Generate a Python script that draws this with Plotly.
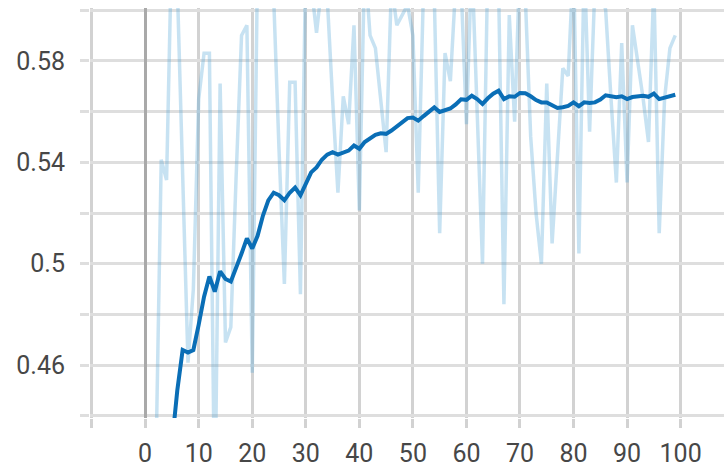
import plotly.graph_objects as go

steps = list(range(100))

raw_values = [
    0.30, 0.38, 0.42, 0.541, 0.533, 0.63, 0.61, 0.535, 0.461, 0.49,
    0.565, 0.583, 0.583, 0.40, 0.571, 0.469, 0.475, 0.535, 0.590, 0.594,
    0.457, 0.62, 0.63, 0.62, 0.605, 0.545, 0.492, 0.5715, 0.5715, 0.488,
    0.62, 0.61, 0.591, 0.61, 0.605, 0.565, 0.528, 0.566, 0.555, 0.594,
    0.521, 0.62, 0.590, 0.585, 0.564, 0.544, 0.61, 0.594, 0.598, 0.602,
    0.59, 0.528, 0.61, 0.61, 0.605, 0.512, 0.583, 0.572, 0.61, 0.61,
    0.555, 0.62, 0.56, 0.50, 0.62, 0.61, 0.61, 0.484, 0.598, 0.556,
    0.62, 0.605, 0.55, 0.52, 0.50, 0.571, 0.508, 0.54, 0.577, 0.574,
    0.62, 0.504, 0.62, 0.552, 0.61, 0.61, 0.60, 0.565, 0.532, 0.587,
    0.532, 0.594, 0.58, 0.565, 0.548, 0.61, 0.512, 0.565, 0.585, 0.59,
]

smoothed_values = [
    0.33, 0.36, 0.385, 0.40, 0.415, 0.429, 0.450, 0.466, 0.465, 0.466,
    0.476, 0.487, 0.495, 0.489, 0.497, 0.494, 0.493, 0.498, 0.504, 0.510,
    0.506, 0.511, 0.519, 0.525, 0.528, 0.527, 0.525, 0.528, 0.530, 0.527,
    0.532, 0.536, 0.538, 0.541, 0.543, 0.544, 0.543, 0.544, 0.5446, 0.5466,
    0.5453, 0.548, 0.5495, 0.5508, 0.5514, 0.5512, 0.5525, 0.554, 0.5558, 0.5574,
    0.5576, 0.5564, 0.5582, 0.560, 0.5616, 0.5598, 0.5605, 0.5612, 0.5628, 0.5648,
    0.5646, 0.5662, 0.5649, 0.563, 0.5652, 0.567, 0.5682, 0.5649, 0.566, 0.5658,
    0.5673, 0.5672, 0.566, 0.5645, 0.5636, 0.5636, 0.5625, 0.5614, 0.5617, 0.5622,
    0.5636, 0.5621, 0.5636, 0.5634, 0.5636, 0.5647, 0.5664, 0.566, 0.5656, 0.566,
    0.5649, 0.5657, 0.566, 0.5662, 0.5658, 0.5671, 0.5649, 0.5654, 0.5658, 0.5666,
]

y_tick_vals = [0.44, 0.46, 0.48, 0.50, 0.52, 0.54, 0.56, 0.58, 0.60]
y_tick_text = ["", "0.46", "", "0.5", "", "0.54", "", "0.58", ""]
x_tick_vals = [-10, 0, 10, 20, 30, 40, 50, 60, 70, 80, 90, 100]
x_tick_text = ["", "0", "10", "20", "30", "40", "50", "60", "70", "80", "90", "100"]

fig = go.Figure()
fig.add_trace(go.Scatter(
    x=steps, y=raw_values, mode="lines",
    line=dict(color="rgba(80,165,215,0.32)", width=3.5),
    hoverinfo="skip", showlegend=False,
))
fig.add_trace(go.Scatter(
    x=steps, y=smoothed_values, mode="lines",
    line=dict(color="#0a6eb6", width=4),
    showlegend=False,
))

font = dict(family="Roboto", size=25, color="#474747")
fig.update_layout(
    width=724, height=471,
    margin=dict(l=90, r=0, t=8, b=53),
    paper_bgcolor="white", plot_bgcolor="white",
    font=font,
    xaxis=dict(
        range=[-10.3, 108.1], tickvals=x_tick_vals, ticktext=x_tick_text,
        showgrid=True, gridcolor="#d2d2d2", gridwidth=2.5,
        zeroline=True, zerolinecolor="#a9a9a9", zerolinewidth=3,
        ticks="outside", ticklen=9, tickwidth=2.5, tickcolor="#d2d2d2",
        showline=False, tickfont=font, ticklabelstandoff=4,
    ),
    yaxis=dict(
        range=[0.4392, 0.6008], tickvals=y_tick_vals, ticktext=y_tick_text,
        showgrid=True, gridcolor="#dedede", gridwidth=2.5,
        zeroline=False,
        ticks="outside", ticklen=9, tickwidth=2.5, tickcolor="#dedede",
        showline=False, tickfont=font, ticklabelstandoff=10,
    ),
)

fig.write_html("out.html")
